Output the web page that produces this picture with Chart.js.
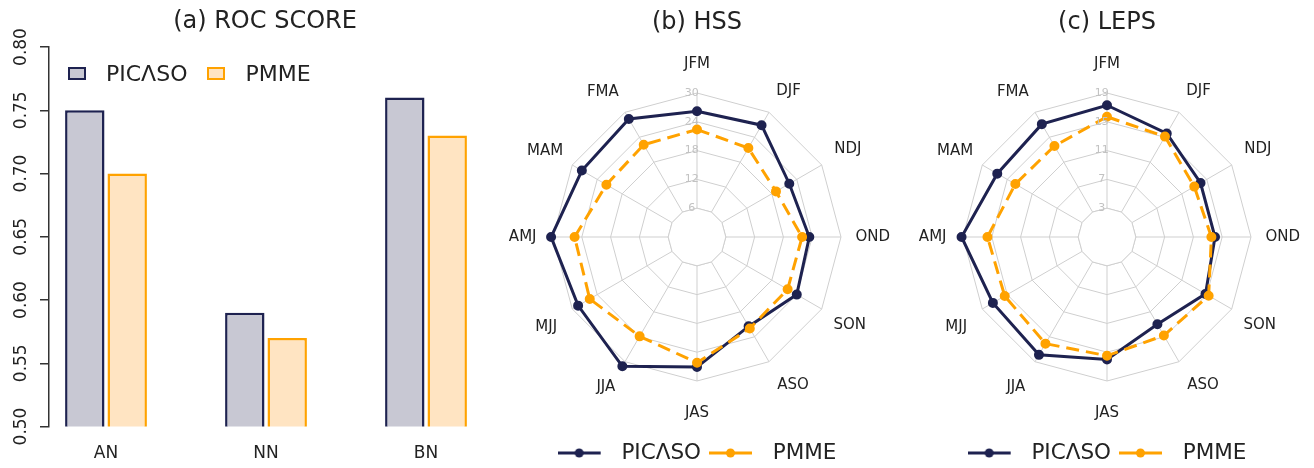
<!DOCTYPE html>
<html>
<head>
<meta charset="utf-8">
<script src="https://cdn.jsdelivr.net/npm/chart.js@4/dist/chart.umd.min.js"></script>
<style>
  html, body { margin: 0; padding: 0; background: #fff; overflow: hidden; }
  #wrap { position: relative; width: 1314px; height: 468px; overflow: hidden; }
  canvas { position: absolute; top: 0; }
  #rocLegend { position: absolute; left: 68px; top: 61px; display: flex; align-items: center;
    font-family: 'DejaVu Sans', sans-serif; font-size: 22px; color: #222; }
  #rocLegend .item { display: flex; align-items: center; margin-right: 20px; }
  #rocLegend .box { width: 14px; height: 9px; border: 2.5px solid; margin-right: 20px; }
</style>
</head>
<body>
<div id="wrap">
  <canvas id="roc" width="530" height="468" style="left:0"></canvas>
  <canvas id="hss" width="480" height="480" style="left:457px"></canvas>
  <canvas id="leps" width="480" height="480" style="left:867px"></canvas>
  <div id="rocLegend"></div>
</div>
<script>
// datos
const rocCategories = ['AN', 'NN', 'BN'];
const rocPicaso = [0.75, 0.59, 0.76];
const rocPmme = [0.70, 0.57, 0.73];
const rocTicks = [0.50, 0.55, 0.60, 0.65, 0.70, 0.75, 0.80];

const seasons = ['JFM', 'DJF', 'NDJ', 'OND', 'SON', 'ASO', 'JAS', 'JJA', 'MJJ', 'AMJ', 'MAM', 'FMA'];
const hssPicaso = [26.2, 26.9, 22.2, 23.4, 24.0, 21.5, 27.1, 31.1, 28.6, 30.4, 27.7, 28.4];
const hssPmme = [22.4, 21.4, 19.0, 21.9, 21.8, 22.0, 26.2, 23.9, 25.8, 25.5, 21.8, 22.2];
const hssTicks = [6, 12, 18, 24, 30];
const lepsPicaso = [17.3, 15.6, 14.0, 14.0, 14.8, 13.0, 16.0, 17.9, 17.3, 19.2, 16.6, 17.1];
const lepsPmme = [15.7, 15.1, 13.0, 13.5, 15.3, 14.8, 15.5, 16.1, 15.4, 15.6, 13.7, 13.6];
const lepsTicks = [3, 7, 11, 15, 19];

const NAVY = '#1e2250';
const ORANGE = '#ffa200';
const GRAY_FILL = '#c8c8d3';
const PEACH_FILL = '#ffe4c2';
const GRID = '#cfcfcf';

Chart.defaults.font.family = "'DejaVu Sans', sans-serif";
Chart.defaults.color = '#222';

// ---------- (a) barras ----------
const rocChart = new Chart(document.getElementById('roc'), {
    type: 'bar',
    data: {
        datasets: [
            {
                label: 'PIC\u039BSO',
                data: rocCategories.map((c, i) => ({ x: i + 1, y: rocPicaso[i] })),
                backgroundColor: GRAY_FILL,
                borderColor: NAVY,
                borderWidth: 2.5
            },
            {
                label: 'PMME',
                data: rocCategories.map((c, i) => ({ x: i + 1, y: rocPmme[i] })),
                backgroundColor: PEACH_FILL,
                borderColor: ORANGE,
                borderWidth: 2.5
            }
        ]
    },
    options: {
        responsive: false,
        animation: false,
        categoryPercentage: 0.53,
        barPercentage: 0.93,
        layout: { padding: 0 },
        scales: {
            x: {
                type: 'linear',
                offset: false,
                min: 1 - 57 / 160,
                max: 1 - 57 / 160 + 481 / 160,
                afterBuildTicks: s => { s.ticks = rocCategories.map((c, i) => ({ value: i + 1 })); },
                afterFit: s => { s.height = 41.5; },
                grid: { display: false },
                border: { display: false },
                ticks: {
                    callback: (v, i) => rocCategories[i],
                    font: { size: 17 },
                    color: '#222',
                    padding: 9
                }
            },
            y: {
                min: rocTicks[0],
                max: rocTicks[rocTicks.length - 1],
                afterBuildTicks: s => { s.ticks = rocTicks.map(v => ({ value: v })); },
                afterFit: s => { s.width = 49; },
                grid: { display: true, drawOnChartArea: false, drawTicks: true, tickLength: 9, color: '#333', lineWidth: 1.5 },
                border: { display: true, color: '#333', width: 1.5 },
                ticks: {
                    callback: v => v.toFixed(2),
                    minRotation: 90,
                    maxRotation: 90,
                    crossAlign: 'center',
                    padding: -1,
                    font: { size: 17 },
                    color: '#222'
                }
            }
        },
        plugins: {
            legend: { display: false },
            tooltip: { enabled: false },
            title: {
                display: true,
                text: '(a) ROC SCORE',
                font: { size: 24, weight: 'normal' },
                color: '#222',
                padding: { top: 7.5, bottom: 10.7 }
            }
        }
    }
});

// leyenda html para el grafico de barras
const legendDiv = document.getElementById('rocLegend');
rocChart.data.datasets.forEach(ds => {
    const item = document.createElement('div');
    item.className = 'item';
    const box = document.createElement('span');
    box.className = 'box';
    box.style.background = ds.backgroundColor;
    box.style.borderColor = ds.borderColor;
    const txt = document.createElement('span');
    txt.textContent = ds.label;
    item.appendChild(box);
    item.appendChild(txt);
    legendDiv.appendChild(item);
});

// ---------- radares ----------
function legendIcon(color) {
    const c = document.createElement('canvas');
    c.width = 53; c.height = 12;
    const g = c.getContext('2d');
    g.strokeStyle = color; g.lineWidth = 3;
    g.beginPath(); g.moveTo(0, 6); g.lineTo(43, 6); g.stroke();
    g.fillStyle = color;
    g.beginPath(); g.arc(21.5, 6, 4.5, 0, Math.PI * 2); g.fill();
    return c;
}

// tapa el centro (sin radios dentro del primer anillo)
const innerHole = {
    id: 'innerHole',
    beforeDatasetsDraw(chart) {
        const s = chart.scales.r;
        const v = s.options.ticks.innerValue;
        const ctx = chart.ctx;
        ctx.save();
        ctx.beginPath();
        for (let i = 0; i < chart.data.labels.length; i++) {
            const p = s.getPointPositionForValue(i, v);
            if (i === 0) ctx.moveTo(p.x, p.y); else ctx.lineTo(p.x, p.y);
        }
        ctx.closePath();
        ctx.fillStyle = '#fff';
        ctx.fill();
        ctx.strokeStyle = GRID;
        ctx.lineWidth = 1;
        ctx.stroke();
        ctx.restore();
    }
};

// separacion de cada etiqueta de estacion
const labelPad = [12, 7, 7, 7, 6, 9, 16, 12, 10, 9, 3, 5];

function makeRadar(id, title, picaso, pmme, ticks) {
    const step = ticks[1] - ticks[0];
    const icons = [legendIcon(NAVY), legendIcon(ORANGE)];
    return new Chart(document.getElementById(id), {
        type: 'radar',
        data: {
            labels: seasons,
            datasets: [
                {
                    label: 'PIC\u039BSO',
                    data: picaso,
                    borderColor: NAVY,
                    backgroundColor: NAVY,
                    pointBackgroundColor: NAVY,
                    pointBorderColor: NAVY,
                    borderWidth: 3,
                    pointRadius: 3.5,
                    fill: false,
                    order: 1
                },
                {
                    label: 'PMME',
                    data: pmme,
                    borderColor: ORANGE,
                    backgroundColor: ORANGE,
                    pointBackgroundColor: ORANGE,
                    pointBorderColor: ORANGE,
                    borderWidth: 3,
                    borderDash: [13, 7],
                    pointRadius: 3.5,
                    fill: false,
                    order: 0
                }
            ]
        },
        options: {
            responsive: false,
            animation: false,
            layout: { padding: { bottom: 6.25 } },
            scales: {
                r: {
                    min: ticks[0] - step,
                    max: ticks[ticks.length - 1],
                    grid: { color: GRID, lineWidth: 1 },
                    angleLines: { color: GRID, lineWidth: 1 },
                    ticks: {
                        stepSize: step,
                        innerValue: ticks[0],
                        z: 1,
                        showLabelBackdrop: false,
                        color: '#c2c2c2',
                        font: { size: 11 },
                        callback: v => (ticks.includes(v) ? v + '   ' : '')
                    },
                    pointLabels: {
                        font: { size: 15 },
                        color: '#222',
                        padding: ctx => labelPad[ctx.index]
                    }
                }
            },
            plugins: {
                tooltip: { enabled: false },
                title: {
                    display: true,
                    text: title,
                    font: { size: 24, weight: 'normal' },
                    color: '#222',
                    padding: { top: 8, bottom: 16.7 }
                },
                legend: {
                    position: 'bottom',
                    title: { display: true, text: '', padding: 0, font: { size: 8.125 } },
                    labels: {
                        usePointStyle: true,
                        pointStyleWidth: 53,
                        padding: 8,
                        font: { size: 21.5 },
                        color: '#222',
                        generateLabels: chart => chart.data.datasets.map((ds, i) => ({
                            text: ds.label,
                            pointStyle: icons[i],
                            fillStyle: ds.borderColor,
                            strokeStyle: ds.borderColor,
                            lineWidth: 0,
                            hidden: false,
                            datasetIndex: i
                        }))
                    }
                }
            }
        },
        plugins: [innerHole]
    });
}

makeRadar('hss', '(b) HSS', hssPicaso, hssPmme, hssTicks);
makeRadar('leps', '(c) LEPS', lepsPicaso, lepsPmme, lepsTicks);
</script>
</body>
</html>
